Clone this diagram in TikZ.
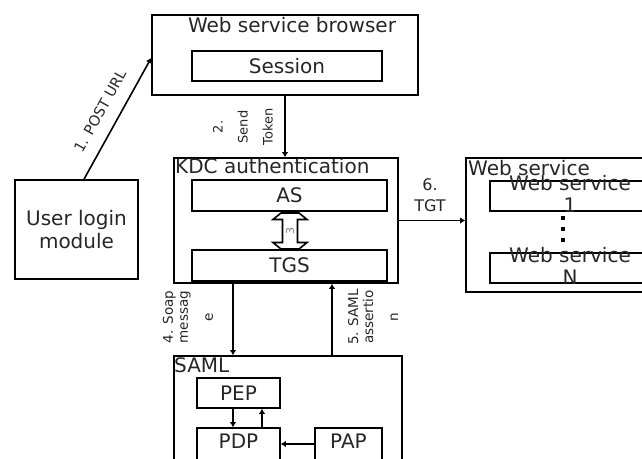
\documentclass[tikz,border=0pt]{standalone}
\usepackage{fontspec}
\setmainfont{DejaVu Sans}
\usetikzlibrary{arrows.meta,calc}
\begin{document}
\begin{tikzpicture}[x=1pt,y=-1pt,
  box/.style={draw, line width=1.6pt, inner sep=0pt},
  txt/.style={inner sep=0pt, font=\fontsize{20}{23}\selectfont, text=black!85},
  small/.style={inner sep=0pt, align=center, text=black!85},
  arr/.style={line width=1.6pt, -{Latex[length=5pt,width=6.5pt]}},
]
\useasboundingbox (0,0) rectangle (642,458);
\clip (0,0) rectangle (642,458);

% Web service browser
\node[box, minimum width=266pt, minimum height=80pt] (wsb) at (285,55) {};
\node[txt] (wsbt) at (292,25) {Web service browser};
\node[box, txt, minimum width=190pt, minimum height=30pt] (session) at (287,66) {Session};

% User login
\node[box, txt, align=center, minimum width=123pt, minimum height=99pt] (login) at (76.5,229.5) {User login\\module};

% KDC
\node[box, minimum width=224pt, minimum height=125pt] (kdc) at (286,220.5) {};
\node[txt, anchor=base west] (kdct) at (175,173) {KDC authentication};
\node[box, txt, minimum width=195pt, minimum height=31pt] (as) at (289.5,195.5) {AS};
\node[box, txt, minimum width=195pt, minimum height=31pt] (tgs) at (289.5,265.5) {TGS};
\draw[line width=1.6pt, fill=white] (281,213) -- (299,213) -- (307,219.5) -- (297.5,219.5) -- (297.5,242.5) -- (307,242.5) -- (299,249) -- (281,249) -- (273,242.5) -- (282.5,242.5) -- (282.5,219.5) -- (273,219.5) -- cycle;
\node[rotate=90, inner sep=0pt, font=\fontsize{11}{11}\selectfont, text=gray] (three) at (290,231) {3};

% Web service
\node[box, minimum width=234pt, minimum height=134pt] (ws) at (583,225) {};
\node[txt, anchor=base west] (wst) at (468,175) {Web service};
\node[box, minimum width=210pt, minimum height=30pt] (ws1) at (595,196) {};
\node[txt, align=center, font=\fontsize{20}{22}\selectfont] (ws1t) at (570,194) {Web service\\1};
\node[box, minimum width=210pt, minimum height=30pt] (wsn) at (595,268) {};
\node[txt, align=center, font=\fontsize{20}{22}\selectfont] (wsnt) at (570,266) {Web service\\N};
\fill (561,216) rectangle (565,220);
\fill (561,227) rectangle (565,231);
\fill (561,238) rectangle (565,242);

% SAML
\node[box, minimum width=228pt, minimum height=164pt] (saml) at (288,438) {};
\node[txt, anchor=base west] (samlt) at (174,372) {SAML};
\node[box, txt, minimum width=83pt, minimum height=30pt] (pep) at (238.5,393) {PEP};
\node[box, minimum width=83pt, minimum height=52pt] (pdp) at (238.5,454) {};
\node[txt] (pdpt) at (238.5,441) {PDP};
\node[box, minimum width=67pt, minimum height=52pt] (pap) at (348.5,454) {};
\node[txt] (papt) at (348.5,441) {PAP};

% connectors
\draw[arr] ([xshift=7.5pt]login.north) -- ([yshift=-3pt]wsb.west);
\draw[arr] (wsb.south) -- (wsb.south |- kdc.north);
\draw[arr] (kdc.east) -- (kdc.east -| ws.west);
\draw[arr] ([xshift=-53pt]kdc.south) -- ([xshift=-53pt]kdc.south |- saml.north);
\draw[arr] ([xshift=44pt]saml.north) -- ([xshift=44pt]saml.north |- kdc.south);
\draw[arr] ([xshift=-5.5pt]pep.south) -- ([xshift=-5.5pt]pep.south |- pdp.north);
\draw[arr] ([xshift=23.5pt]pdp.north) -- ([xshift=23.5pt]pdp.north |- pep.south);
\draw[arr] ([yshift=10pt]pap.west) -- ([yshift=10pt]pap.west -| pdp.east);

% labels
\node[small, rotate=60.9, font=\fontsize{14.5}{16}\selectfont] (l1) at (100,111) {1. POST URL};
\node[small, rotate=90, font=\fontsize{13}{25}\selectfont] (l2) at (243,127) {2.\\Send\\Token};
\node[small, font=\fontsize{16}{21}\selectfont] (l6) at (430,195) {6.\\TGT};
\node[small, rotate=90, font=\fontsize{13.5}{15}\selectfont] (l4) at (188,317) {4. Soap\\messag\\[10pt]e};
\node[small, rotate=90, font=\fontsize{13.5}{15}\selectfont] (l5) at (373,317) {5. SAML\\assertio\\[10pt]n};
\end{tikzpicture}
\end{document}
